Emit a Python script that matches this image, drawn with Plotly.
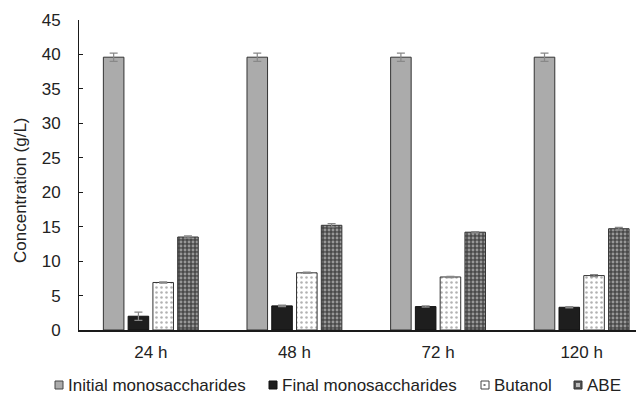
import plotly.graph_objects as go

categories = ["24 h", "48 h", "72 h", "120 h"]
series_names = ["Initial monosaccharides", "Final monosaccharides", "Butanol", "ABE"]
initial = [39.6, 39.6, 39.6, 39.6]
initial_err = [0.6, 0.6, 0.6, 0.6]
final = [2.0, 3.5, 3.4, 3.3]
final_err = [0.6, 0.1, 0.1, 0.1]
butanol = [6.9, 8.3, 7.7, 7.9]
butanol_err = [0.1, 0.1, 0.1, 0.15]
abe = [13.5, 15.2, 14.2, 14.7]
abe_err = [0.15, 0.25, 0.1, 0.2]

err_style = dict(type="data", color="#888", thickness=1.2, width=4)
line = dict(color="#333", width=1)

fig = go.Figure()
fig.add_bar(name=series_names[0], x=categories, y=initial,
            error_y=dict(array=initial_err, **err_style),
            marker=dict(color="#ababab", line=line))
fig.add_bar(name=series_names[1], x=categories, y=final,
            error_y=dict(array=final_err, **err_style),
            marker=dict(color="#1e1e1e", line=dict(color="#111", width=1)))
fig.add_bar(name=series_names[2], x=categories, y=butanol,
            error_y=dict(array=butanol_err, **err_style),
            marker=dict(color="white", line=line,
                        pattern=dict(shape=".", fgcolor="#666", bgcolor="white",
                                     size=5, solidity=0.2, fillmode="overlay")))
fig.add_bar(name=series_names[3], x=categories, y=abe,
            error_y=dict(array=abe_err, **err_style),
            marker=dict(color="#555", line=line,
                        pattern=dict(shape=".", fgcolor="#e6e6e6", bgcolor="#4a4a4a",
                                     size=4, solidity=0.4, fillmode="overlay")))

# page offset: the browser body has an 8px margin
OFF = 8
FIG_W, FIG_H = 644 - OFF, 395 - OFF
# plot area in page pixels: x 79..644, y 20..330
L, W, T, H = 79, 565, 20, 310
def px(x):
    return (x - L) / W
def py(y):
    return (T + H - y) / H

fig.add_annotation(text="Concentration (g/L)", textangle=-90, xref="paper", yref="paper",
                   x=px(20), y=py(190), showarrow=False, xanchor="center", yanchor="middle",
                   font=dict(size=17))

# legend drawn manually (single row, tight spacing like the reference)
legend_sym_x = [55, 269, 481, 574]
legend_fill = ["#ababab", "#1e1e1e", "#ffffff", "#555555"]
legend_edge = ["#444", "#111", "#444", "#333"]
for name, sx, fc, ec in zip(series_names, legend_sym_x, legend_fill, legend_edge):
    fig.add_shape(type="rect", xref="paper", yref="paper",
                  x0=px(sx), x1=px(sx + 8), y0=py(389), y1=py(381),
                  fillcolor=fc, line=dict(color=ec, width=1))
    fig.add_annotation(text=name, xref="paper", yref="paper", x=px(sx + 11), y=py(385),
                       xanchor="left", yanchor="middle", showarrow=False,
                       font=dict(size=17))
# small inner marks for the patterned legend symbols
fig.add_shape(type="rect", xref="paper", yref="paper",
              x0=px(483.5), x1=px(485.5), y0=py(386), y1=py(384),
              fillcolor="#777", line=dict(width=0))
fig.add_shape(type="rect", xref="paper", yref="paper",
              x0=px(576), x1=px(580), y0=py(387), y1=py(383),
              fillcolor="#bbb", line=dict(width=0))

fig.update_layout(
    width=FIG_W, height=FIG_H,
    margin=dict(l=L - OFF, r=0, t=T - OFF, b=395 - T - H),
    paper_bgcolor="white", plot_bgcolor="white",
    barmode="group", bargap=0.31, bargroupgap=0.17,
    showlegend=False,
    font=dict(family="Liberation Sans, Arial, sans-serif", size=17, color="#222"),
    xaxis=dict(showline=True, linecolor="#1a1a1a", linewidth=2, ticks="",
               range=[-0.5, 3.434], automargin=False, ticklabelstandoff=6,
               tickfont=dict(size=17), showgrid=False),
    yaxis=dict(range=[0, 45], dtick=5, showline=True, linecolor="#1a1a1a", linewidth=1,
               showgrid=False, ticks="inside", ticklen=4, tickcolor="#1a1a1a",
               automargin=False, ticklabelstandoff=14,
               tickfont=dict(size=17), zeroline=False),
)

fig.write_html("out.html")
